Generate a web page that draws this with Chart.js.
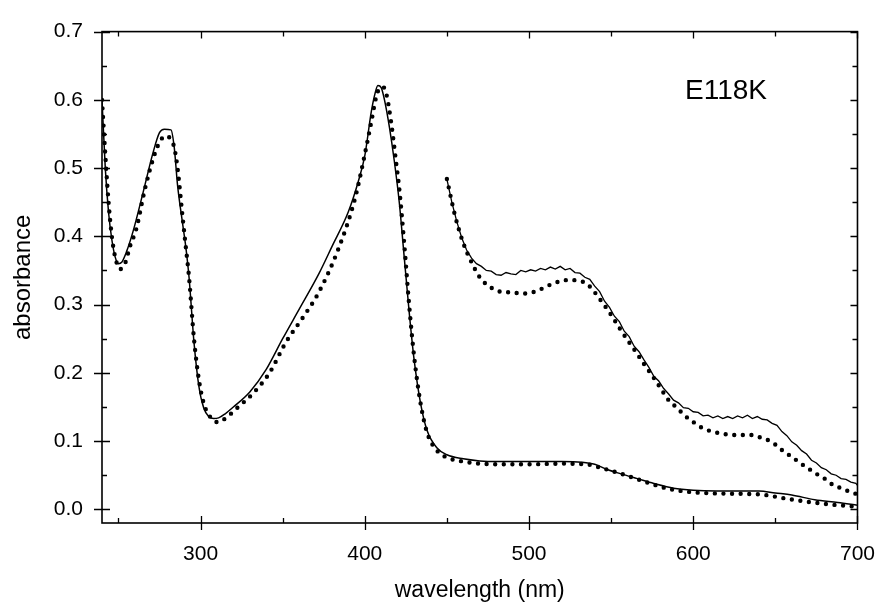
<!DOCTYPE html>
<html>
<head>
<meta charset="utf-8">
<script src="https://cdn.jsdelivr.net/npm/chart.js@4.4.1/dist/chart.umd.min.js"></script>
<style>
  html, body { margin: 0; padding: 0; background: #fff; }
  #wrap { width: 894px; height: 613px; }
</style>
</head>
<body>
<div id="wrap"><canvas id="spectrum" width="894" height="613"></canvas></div>
<script>
// full-range spectrum, solid trace
const solidWl = [240, 242, 244, 246, 248, 250, 252, 255, 259, 265, 271, 275, 278, 282, 284, 286, 289, 291, 293, 296,
  299, 302, 305, 308, 311, 315, 320, 330, 340, 350, 360, 372, 380, 390, 396, 400, 404, 406, 408, 410,
  412, 415, 418, 421, 424, 427, 430, 434, 438, 444, 450, 460, 470, 480, 500, 520, 532, 540, 548, 556,
  566, 576, 588, 600, 614, 628, 640, 650, 660, 674, 688, 700];
const solidAbs = [0.600, 0.500, 0.435, 0.395, 0.370, 0.360, 0.362, 0.378, 0.408, 0.464, 0.522, 0.552, 0.557, 0.556, 0.530, 0.475, 0.420, 0.385, 0.340, 0.245,
  0.180, 0.148, 0.136, 0.133, 0.134, 0.140, 0.150, 0.172, 0.205, 0.250, 0.293, 0.345, 0.385, 0.436, 0.480, 0.518, 0.583, 0.607, 0.621, 0.618,
  0.600, 0.560, 0.510, 0.450, 0.370, 0.290, 0.220, 0.155, 0.115, 0.090, 0.080, 0.074, 0.071, 0.070, 0.070, 0.070, 0.069, 0.066, 0.058, 0.052,
  0.045, 0.038, 0.031, 0.028, 0.027, 0.027, 0.027, 0.024, 0.021, 0.014, 0.010, 0.006];

// full-range spectrum, dotted trace
const dottedWl = [240, 242, 244, 246, 248, 251, 254, 257, 261, 266, 272, 276, 279, 282, 284, 286, 289, 291, 293, 296,
  299, 302, 306, 310, 313, 317, 322, 332, 342, 352, 362, 372, 384, 394, 400, 404, 407, 409, 411, 413,
  416, 419, 421, 424, 427, 430, 434, 438, 444, 450, 460, 470, 480, 500, 520, 535, 545, 555, 565, 575,
  585, 600, 620, 640, 656, 670, 684, 700];
const dottedAbs = [0.600, 0.520, 0.450, 0.400, 0.370, 0.352, 0.360, 0.385, 0.412, 0.468, 0.520, 0.542, 0.547, 0.542, 0.530, 0.500, 0.430, 0.385, 0.340, 0.250,
  0.190, 0.155, 0.135, 0.128, 0.130, 0.137, 0.148, 0.170, 0.200, 0.245, 0.280, 0.318, 0.382, 0.455, 0.520, 0.568, 0.605, 0.617, 0.619, 0.610,
  0.568, 0.510, 0.470, 0.390, 0.300, 0.225, 0.155, 0.112, 0.086, 0.076, 0.070, 0.067, 0.066, 0.066, 0.067, 0.066, 0.060, 0.053, 0.045, 0.037,
  0.030, 0.025, 0.023, 0.022, 0.016, 0.011, 0.007, 0.004];

// expanded visible region, solid trace (noisy scan)
const zoomSolidWl = [450, 453, 456, 459, 462, 465, 468, 471, 474, 477, 480, 483, 486, 489, 492, 495, 498, 501, 504, 507,
  510, 513, 516, 519, 522, 525, 528, 531, 534, 537, 540, 543, 546, 549, 552, 555, 558, 561, 564, 567,
  570, 573, 576, 579, 582, 585, 588, 591, 594, 597, 600, 603, 606, 609, 612, 615, 618, 621, 624, 627,
  630, 633, 636, 639, 642, 645, 648, 651, 654, 657, 660, 663, 666, 669, 672, 675, 678, 681, 684, 687,
  690, 693, 696, 699, 700];
const zoomSolidAbs = [0.484, 0.450, 0.422, 0.398, 0.380, 0.368, 0.360, 0.356, 0.350, 0.349, 0.344, 0.343, 0.347, 0.345, 0.344, 0.350, 0.348, 0.351, 0.349, 0.353,
  0.351, 0.355, 0.352, 0.356, 0.351, 0.353, 0.347, 0.346, 0.340, 0.337, 0.327, 0.319, 0.305, 0.296, 0.283, 0.275, 0.261, 0.253, 0.239, 0.231,
  0.219, 0.208, 0.195, 0.188, 0.177, 0.169, 0.160, 0.156, 0.149, 0.148, 0.143, 0.142, 0.137, 0.138, 0.134, 0.137, 0.133, 0.136, 0.133, 0.137,
  0.134, 0.138, 0.133, 0.136, 0.132, 0.131, 0.126, 0.123, 0.114, 0.108, 0.099, 0.094, 0.086, 0.081, 0.072, 0.068, 0.061, 0.058, 0.052, 0.050,
  0.045, 0.044, 0.040, 0.038, 0.035];

// expanded visible region, dotted trace
const zoomDottedWl = [450, 455, 460, 465, 470, 475, 480, 485, 490, 495, 500, 505, 510, 515, 520, 525, 530, 535, 540, 545,
  550, 555, 560, 565, 570, 575, 580, 585, 590, 595, 600, 605, 610, 615, 620, 625, 630, 635, 640, 645,
  650, 655, 660, 665, 670, 675, 680, 685, 690, 695, 700];
const zoomDottedAbs = [0.484, 0.430, 0.390, 0.362, 0.340, 0.328, 0.321, 0.318, 0.318, 0.316, 0.317, 0.320, 0.326, 0.331, 0.335, 0.336, 0.335, 0.331, 0.318, 0.302,
  0.285, 0.266, 0.248, 0.231, 0.213, 0.196, 0.178, 0.160, 0.149, 0.137, 0.128, 0.120, 0.115, 0.112, 0.110, 0.109, 0.109, 0.109, 0.106, 0.102,
  0.095, 0.085, 0.077, 0.068, 0.060, 0.052, 0.045, 0.036, 0.031, 0.026, 0.022];

const xMajorTicks = [300, 400, 500, 600, 700];
const xMinorTicks = [250, 350, 450, 550, 650];
const yMajorTicks = [0.0, 0.1, 0.2, 0.3, 0.4, 0.5, 0.6, 0.7];
const yMinorTicks = [0.05, 0.15, 0.25, 0.35, 0.45, 0.55, 0.65];

const sampleLabel = 'E118K';
const labelAt = { x: 595, y: 0.613 };

const FONT = '"Liberation Sans", Arial, Helvetica, sans-serif';

const toPoints = (xs, ys) => xs.map((x, i) => ({ x: x, y: ys[i] }));

const solidLine = { borderColor: '#000', borderWidth: 1.5, pointRadius: 0, fill: false };
const dottedLine = {
  borderColor: '#000', borderWidth: 4.4, pointRadius: 0, fill: false,
  borderDash: [0, 8.6], borderCapStyle: 'round'
};

// box frame with crossing major ticks on the left/bottom and inward ticks all round
const frameTicks = {
  id: 'frameTicks',
  afterDatasetsDraw(chart) {
    const { ctx, chartArea: a, scales: { x, y } } = chart;
    ctx.save();
    ctx.strokeStyle = '#000';
    ctx.lineWidth = 1.6;
    ctx.strokeRect(a.left, a.top, a.right - a.left, a.bottom - a.top);
    ctx.lineWidth = 1.3;
    ctx.beginPath();
    xMajorTicks.forEach(v => {
      const px = Math.round(x.getPixelForValue(v)) + 0.5;
      ctx.moveTo(px, a.bottom + 7); ctx.lineTo(px, a.bottom - 7);
      ctx.moveTo(px, a.top); ctx.lineTo(px, a.top + 7);
    });
    xMinorTicks.forEach(v => {
      const px = Math.round(x.getPixelForValue(v)) + 0.5;
      ctx.moveTo(px, a.bottom); ctx.lineTo(px, a.bottom - 5);
      ctx.moveTo(px, a.top); ctx.lineTo(px, a.top + 5);
    });
    yMajorTicks.forEach(v => {
      const py = Math.round(y.getPixelForValue(v)) + 0.5;
      ctx.moveTo(a.left - 8, py); ctx.lineTo(a.left + 8, py);
      ctx.moveTo(a.right, py); ctx.lineTo(a.right - 7, py);
    });
    yMinorTicks.forEach(v => {
      const py = Math.round(y.getPixelForValue(v)) + 0.5;
      ctx.moveTo(a.left, py); ctx.lineTo(a.left + 5, py);
      ctx.moveTo(a.right, py); ctx.lineTo(a.right - 5, py);
    });
    ctx.stroke();

    ctx.fillStyle = '#000';
    ctx.font = '28px ' + FONT;
    ctx.textAlign = 'left';
    ctx.textBaseline = 'middle';
    ctx.fillText(sampleLabel, x.getPixelForValue(labelAt.x), y.getPixelForValue(labelAt.y));
    ctx.restore();
  }
};

new Chart(document.getElementById('spectrum'), {
  type: 'line',
  data: {
    datasets: [
      { ...solidLine, data: toPoints(solidWl, solidAbs), cubicInterpolationMode: 'monotone' },
      { ...dottedLine, data: toPoints(dottedWl, dottedAbs), cubicInterpolationMode: 'monotone' },
      { ...solidLine, borderWidth: 1.3, data: toPoints(zoomSolidWl, zoomSolidAbs), tension: 0 },
      { ...dottedLine, data: toPoints(zoomDottedWl, zoomDottedAbs), cubicInterpolationMode: 'monotone' },
    ],
  },
  options: {
    responsive: false,
    animation: false,
    devicePixelRatio: 1,
    layout: { padding: { top: 14, right: 23, bottom: 0, left: 0 } },
    plugins: { legend: { display: false }, tooltip: { enabled: false } },
    scales: {
      x: {
        type: 'linear',
        min: 240,
        max: 700,
        afterBuildTicks: s => { s.ticks = xMajorTicks.map(v => ({ value: v })); },
        afterFit: s => { s.height = 90; },
        grid: { display: false, drawTicks: false },
        border: { display: false },
        ticks: { color: '#000', padding: 19, maxRotation: 0, font: { family: FONT, size: 21 } },
        title: {
          display: true, text: 'wavelength (nm)', color: '#000',
          font: { family: FONT, size: 23 }, padding: { top: 0, bottom: 9 }
        },
      },
      y: {
        type: 'linear',
        min: -0.02,
        max: 0.7,
        afterBuildTicks: s => { s.ticks = yMajorTicks.map(v => ({ value: v })); },
        afterFit: s => { s.width = 102; },
        grid: { display: false, drawTicks: false },
        border: { display: false },
        ticks: {
          color: '#000', padding: 19, font: { family: FONT, size: 21 },
          callback: v => v.toFixed(1)
        },
        title: {
          display: true, text: 'absorbance', color: '#000',
          font: { family: FONT, size: 24 }, padding: { top: 9, bottom: 0 }
        },
      },
    },
  },
  plugins: [frameTicks],
});
</script>
</body>
</html>
